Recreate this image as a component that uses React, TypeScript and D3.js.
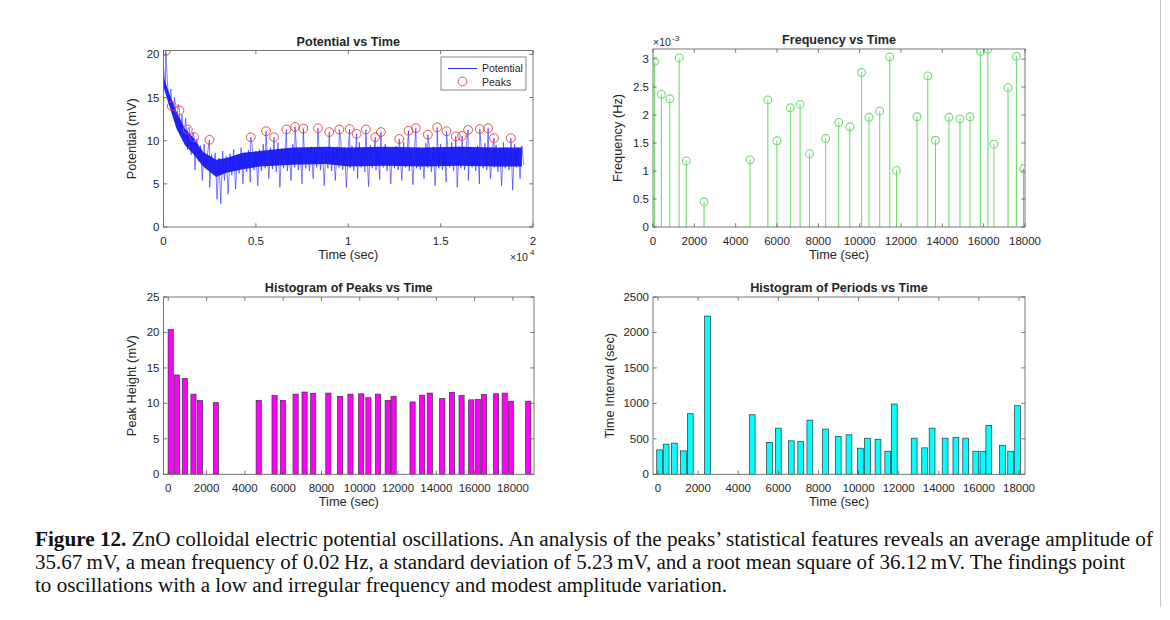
import React from 'react';
import * as d3 from 'd3';

// peaks found on the potential trace (time in s, height in mV)
const peakTimes = [126, 450, 865, 1315, 1658, 2487, 4721, 5550, 5983, 6650, 7118, 7568, 8361, 8974, 9515, 10073, 10452, 10956, 11461, 11767, 12758, 13263, 13659, 14308, 14812, 15317, 15822, 16164, 16488, 17119, 17570, 17894, 18800];
const peakHeights = [20.4, 14.0, 13.5, 11.3, 10.4, 10.1, 10.4, 11.1, 10.4, 11.3, 11.6, 11.4, 11.45, 11.0, 11.3, 11.35, 10.8, 11.3, 10.4, 11.0, 10.2, 11.15, 11.45, 10.7, 11.55, 11.1, 10.5, 10.55, 11.25, 11.35, 11.45, 10.3, 10.3];

// potential trace: upper / lower swing read every potStep seconds
const potStep = 200;
const potHigh = [18.6, 17.2, 16.0, 15.0, 14.2, 13.0, 12.6, 11.6, 11.0, 10.2, 9.4, 9.6, 8.8, 8.4, 8.6, 8.0, 8.8, 8.2, 8.5, 9.0, 8.4, 9.2, 8.6, 8.9, 9.5, 8.8, 9.0, 9.6, 8.9, 9.2, 9.0, 9.8, 9.1, 9.3, 9.0, 9.6, 9.2, 9.0, 9.7, 9.1, 9.3, 9.0, 9.8, 9.2, 9.0, 9.5, 9.1, 9.3, 9.9, 9.2, 9.0, 9.4, 9.1, 9.8, 9.2, 9.0, 9.5, 9.1, 9.3, 9.0, 9.6, 9.2, 9.0, 9.4, 9.1, 9.8, 9.2, 9.0, 9.5, 9.2, 9.0, 9.7, 9.1, 9.3, 9.0, 9.6, 9.2, 9.0, 9.8, 9.1, 9.3, 9.0, 9.6, 9.2, 9.0, 9.4, 9.1, 9.7, 9.2, 9.0, 9.5, 9.1, 9.8, 9.2, 9.0, 9.6, 9.2, 9.4];
const potLow = [16.0, 14.2, 13.0, 12.0, 10.8, 10.2, 9.0, 8.4, 6.6, 7.6, 5.4, 6.8, 4.6, 6.4, 3.2, 2.7, 5.4, 3.8, 6.0, 4.4, 6.2, 5.0, 6.4, 5.2, 6.6, 4.8, 6.5, 6.8, 5.6, 6.7, 6.4, 4.6, 6.8, 6.5, 5.4, 6.9, 6.6, 5.0, 6.8, 6.5, 5.6, 6.9, 6.6, 4.8, 6.8, 6.5, 5.4, 6.9, 6.6, 4.6, 6.8, 6.5, 5.6, 6.9, 6.4, 4.7, 6.8, 6.6, 5.5, 6.9, 6.5, 5.0, 6.8, 6.6, 5.4, 6.9, 6.5, 4.9, 6.8, 6.6, 5.6, 6.9, 6.4, 4.8, 6.8, 6.6, 5.2, 6.9, 6.5, 4.6, 6.8, 6.6, 5.4, 6.9, 6.5, 5.0, 6.8, 6.6, 5.6, 6.9, 6.4, 4.8, 6.8, 6.6, 4.3, 6.9, 5.6, 7.2];
// dense dark core of the trace
const coreTimes = [0, 350, 700, 1150, 1600, 2150, 2850, 3400, 4300, 5200, 7000, 8800, 10000, 12000, 14000, 16000, 18000, 19400];
const coreHigh = [17.4, 15.3, 13.4, 11.4, 10.4, 8.7, 7.8, 8.0, 8.6, 8.8, 9.2, 9.3, 9.2, 9.3, 9.2, 9.3, 9.2, 9.2];
const coreLow = [16.2, 13.8, 11.4, 9.5, 8.5, 7.0, 5.8, 6.3, 6.7, 7.0, 7.2, 7.3, 7.0, 7.1, 7.0, 7.1, 7.0, 7.0];

// frequency stems (Hz x 1e-3) and periods (s) at the same times
const freqTimes = [81, 406, 812, 1267, 1608, 2470, 4696, 5557, 5996, 6646, 7117, 7572, 8352, 8986, 9523, 10092, 10449, 10969, 11457, 11782, 12774, 13294, 13667, 14317, 14853, 15341, 15845, 16202, 16494, 17177, 17584, 17926];
const freqValues = [2.96, 2.37, 2.29, 3.02, 1.18, 0.45, 1.20, 2.27, 1.54, 2.13, 2.19, 1.31, 1.58, 1.87, 1.79, 2.76, 1.96, 2.07, 3.04, 1.01, 1.97, 2.70, 1.55, 1.96, 1.93, 1.97, 3.14, 3.18, 1.48, 2.49, 3.05, 1.04];
const periodValues = [344, 425, 439, 330, 854, 2231, 840, 448, 651, 472, 462, 764, 637, 533, 557, 368, 509, 491, 325, 991, 509, 373, 651, 509, 519, 509, 325, 321, 689, 406, 325, 967];

// tick values
const timeTicks = [0, 2000, 4000, 6000, 8000, 10000, 12000, 14000, 16000, 18000];
const potXTicks = [0, 5000, 10000, 15000, 20000];
const potYTicks = [0, 5, 10, 15, 20];
const freqYTicks = [0, 0.5, 1, 1.5, 2, 2.5, 3];
const peakYTicks = [0, 5, 10, 15, 20, 25];
const periodYTicks = [0, 500, 1000, 1500, 2000, 2500];

const captionLines = [
  'ZnO colloidal electric potential oscillations. An analysis of the peaks\u2019 statistical features reveals an average amplitude of',
  '35.67\u2009mV, a mean frequency of 0.02\u2009Hz, a standard deviation of 5.23\u2009mV, and a root mean square of 36.12\u2009mV. The findings point',
  'to oscillations with a low and irregular frequency and modest amplitude variation.',
];

const SANS = 'Liberation Sans, Arial, sans-serif';
const INK = '#262626';
const FRAME = '#555';

const Axes = ({ x, y, xTicks, yTicks, xFmt, yFmt, title, xLabel, yLabel, yLabelX, id, children }: any) => {
  const [l, r] = x.range();
  const [b, t] = y.range();
  const tl = 3.7;
  return (
    <g fontFamily={SANS} fill={INK}>
      <clipPath id={id}><rect x={l} y={t} width={r - l} height={b - t} /></clipPath>
      <g clipPath={`url(#${id})`}>{children}</g>
      <rect x={l} y={t} width={r - l} height={b - t} fill="none" stroke={FRAME} strokeWidth={0.8} />
      {xTicks.map((v: number) => (
        <g key={'x' + v}>
          <line x1={x(v)} x2={x(v)} y1={b} y2={b - tl} stroke={FRAME} strokeWidth={0.8} />
          <line x1={x(v)} x2={x(v)} y1={t} y2={t + tl} stroke={FRAME} strokeWidth={0.8} />
          <text x={x(v)} y={b + 18} fontSize={11.5} textAnchor="middle">{xFmt(v)}</text>
        </g>
      ))}
      {yTicks.map((v: number) => (
        <g key={'y' + v}>
          <line x1={l} x2={l + tl} y1={y(v)} y2={y(v)} stroke={FRAME} strokeWidth={0.8} />
          <line x1={r} x2={r - tl} y1={y(v)} y2={y(v)} stroke={FRAME} strokeWidth={0.8} />
          <text x={l - 4} y={y(v) + 4} fontSize={11.5} textAnchor="end">{yFmt(v)}</text>
        </g>
      ))}
      <text x={(l + r) / 2} y={t - 5} fontSize={12.6} fontWeight="bold" textAnchor="middle">{title}</text>
      <text x={(l + r) / 2} y={b + 32} fontSize={12.8} textAnchor="middle">{xLabel}</text>
      <text transform={`translate(${yLabelX},${(t + b) / 2}) rotate(-90)`} fontSize={12.8} textAnchor="middle">{yLabel}</text>
    </g>
  );
};

const App = () => {
  // panel scales
  const x1 = d3.scaleLinear().domain([0, 20000]).range([163.5, 533]);
  const y1 = d3.scaleLinear().domain([0, 20.45]).range([227, 50.5]);
  const x2 = d3.scaleLinear().domain([0, 18000]).range([653, 1025]);
  const y2 = d3.scaleLinear().domain([0, 3.18]).range([227, 49]);
  const x3 = d3.scaleLinear().domain([-250, 19100]).range([163.5, 534]);
  const y3 = d3.scaleLinear().domain([0, 25]).range([474.3, 297]);
  const x4 = d3.scaleLinear().domain([-250, 18300]).range([653, 1025]);
  const y4 = d3.scaleLinear().domain([0, 2500]).range([474.3, 297]);

  const pts: [number, number][] = [];
  potHigh.forEach((h, i) => {
    pts.push([i * potStep, h]);
    pts.push([i * potStep + potStep / 2, potLow[i]]);
  });
  peakTimes.forEach((t, i) => pts.push([t, peakHeights[i]]));
  pts.sort((a, b) => a[0] - b[0]);
  const potLine = d3.line<[number, number]>().x(d => x1(d[0])).y(d => y1(d[1]));
  const coreArea = d3.area<number>()
    .x(i => x1(coreTimes[i]))
    .y0(i => y1(coreLow[i]))
    .y1(i => y1(coreHigh[i]));

  const plain = (v: number) => String(v);
  const peakW = 270;
  const periodW = 290;

  return (
    <svg width={1170} height={620} style={{ position: 'absolute', left: 0, top: 0, background: '#fff' }}>
      <rect width={1170} height={620} fill="#fff" />
      <line x1={1160.5} x2={1160.5} y1={0} y2={607} stroke="#c8c8c8" strokeWidth={1} />

      <Axes id="c1" x={x1} y={y1} xTicks={potXTicks} yTicks={potYTicks}
        xFmt={(v: number) => String(v / 10000)} yFmt={plain}
        title="Potential vs Time" xLabel="Time (sec)" yLabel="Potential (mV)" yLabelX={136}>
        <path d={coreArea(coreTimes.map((_, i) => i)) || ''} fill="#1212f5" fillOpacity={0.92} />
        <path d={potLine(pts) || ''} fill="none" stroke="#1818ff" strokeWidth={0.8} strokeOpacity={0.7} />
        {peakTimes.map((t, i) => (
          <circle key={i} cx={x1(t)} cy={y1(peakHeights[i])} r={4.4} fill="none" stroke="#ec3b3b" strokeWidth={0.9} />
        ))}
      </Axes>
      <g fontFamily={SANS} fill={INK}>
        <text x={510} y={261} fontSize={10.5}>×10</text>
        <text x={530} y={255} fontSize={8}>4</text>
        <rect x={441} y={57} width={85} height={33} fill="#fff" stroke={FRAME} strokeWidth={0.7} />
        <line x1={448} x2={477} y1={68.5} y2={68.5} stroke="#1818ff" strokeWidth={0.9} />
        <text x={482} y={72} fontSize={10.5}>Potential</text>
        <circle cx={462.5} cy={81.5} r={4.4} fill="none" stroke="#ec3b3b" strokeWidth={0.9} />
        <text x={482} y={85.5} fontSize={10.5}>Peaks</text>
      </g>

      <Axes id="c2" x={x2} y={y2} xTicks={timeTicks} yTicks={freqYTicks} xFmt={plain} yFmt={plain}
        title="Frequency vs Time" xLabel="Time (sec)" yLabel="Frequency (Hz)" yLabelX={622}>
        {freqTimes.map((t, i) => (
          <g key={i} stroke="#6fdc6f" fill="none">
            <line x1={x2(t)} x2={x2(t)} y1={y2(0)} y2={y2(freqValues[i])} strokeWidth={1.1} />
            <circle cx={x2(t)} cy={y2(freqValues[i])} r={3.9} strokeWidth={1.1} />
          </g>
        ))}
      </Axes>
      <g fontFamily={SANS} fill={INK}>
        <text x={653} y={46} fontSize={10.5}>×10</text>
        <text x={672} y={41} fontSize={8}>-3</text>
      </g>

      <Axes id="c3" x={x3} y={y3} xTicks={timeTicks} yTicks={peakYTicks} xFmt={plain} yFmt={plain}
        title="Histogram of Peaks vs Time" xLabel="Time (sec)" yLabel="Peak Height (mV)" yLabelX={136}>
        {peakTimes.map((t, i) => (
          <rect key={i} x={x3(t - peakW / 2)} width={x3(t + peakW / 2) - x3(t - peakW / 2)}
            y={y3(peakHeights[i])} height={y3(0) - y3(peakHeights[i])}
            fill="#ff00ff" stroke="#333" strokeWidth={0.7} />
        ))}
      </Axes>

      <Axes id="c4" x={x4} y={y4} xTicks={timeTicks} yTicks={periodYTicks} xFmt={plain} yFmt={plain}
        title="Histogram of Periods vs Time" xLabel="Time (sec)" yLabel="Time Interval (sec)" yLabelX={614}>
        {freqTimes.map((t, i) => (
          <rect key={i} x={x4(t - periodW / 2)} width={x4(t + periodW / 2) - x4(t - periodW / 2)}
            y={y4(periodValues[i])} height={y4(0) - y4(periodValues[i])}
            fill="#00ffff" stroke="#333" strokeWidth={0.7} />
        ))}
      </Axes>

      <g fontFamily="Liberation Serif, Times New Roman, serif" fontSize={20} fill="#111">
        <text x={35} y={546} textLength={1118} lengthAdjust="spacingAndGlyphs">
          <tspan fontWeight="bold">Figure 12.</tspan> {captionLines[0]}
        </text>
        <text x={35} y={569} textLength={1090} lengthAdjust="spacingAndGlyphs">{captionLines[1]}</text>
        <text x={35} y={592} textLength={692} lengthAdjust="spacingAndGlyphs">{captionLines[2]}</text>
      </g>
    </svg>
  );
};

export default App;
